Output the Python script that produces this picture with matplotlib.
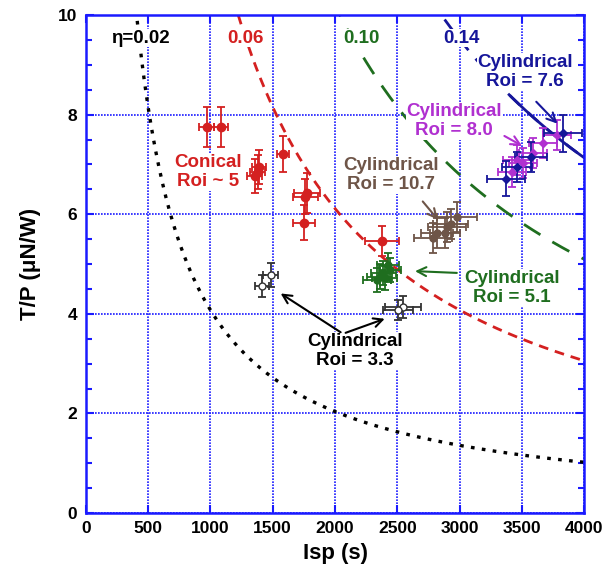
import numpy as np
import matplotlib
matplotlib.use("Agg")
import matplotlib.pyplot as plt
from matplotlib.ticker import MultipleLocator

plt.rcParams['font.family'] = ['Liberation Sans', 'DejaVu Sans']
plt.rcParams['font.weight'] = 'bold'

# efficiency curves: T/P = 2*eta/(g*Isp)
etas = [0.02, 0.06, 0.10, 0.14]
eta_labels = ["\u03b7=0.02", "0.06", "0.10", "0.14"]
eta_colors = ["black", "#d42020", "#1f6e1f", "#16169a"]
eta_dashes = [(1.1, 2.2), (3.5, 2.5), (7, 5), (5, 4)]
eta_widths = [2.4, 2, 2, 2]
eta_label_x = [434, 1285, 2209, 3018]
g0 = 9.81

# data points (Isp, T/P, xerr, yerr)
conical_isp = [972, 1084, 1583, 1390, 1357, 1380, 1775, 1760, 1751, 2378]
conical_tp = [7.75, 7.75, 7.21, 6.95, 6.77, 6.85, 6.43, 6.35, 5.83, 5.46]
conical_xerr = [60, 56, 50, 60, 60, 60, 107, 100, 90, 134]
conical_yerr = [0.4, 0.4, 0.36, 0.35, 0.35, 0.35, 0.4, 0.35, 0.35, 0.3]

cyl51_isp = [2386, 2337, 2442, 2360, 2426, 2400]
cyl51_tp = [4.82, 4.68, 4.88, 4.75, 4.98, 4.72]
cyl51_xerr = [100, 110, 90, 100, 90, 100]
cyl51_yerr = [0.25, 0.25, 0.25, 0.25, 0.25, 0.25]

cyl33_isp = [1414, 1486, 2547, 2507]
cyl33_tp = [4.56, 4.78, 4.14, 4.07]
cyl33_xerr = [60, 60, 145, 120]
cyl33_yerr = [0.22, 0.25, 0.22, 0.2]

cyl107_isp = [2898, 2820, 2980, 2884, 2787, 2930]
cyl107_tp = [5.74, 5.62, 5.95, 5.62, 5.52, 5.80]
cyl107_xerr = [150, 130, 160, 120, 150, 140]
cyl107_yerr = [0.3, 0.3, 0.3, 0.3, 0.3, 0.3]

cyl80_isp = [3422, 3510, 3590, 3462, 3670, 3783]
cyl80_tp = [6.85, 7.03, 7.23, 7.09, 7.43, 7.59]
cyl80_xerr = [110, 110, 110, 110, 110, 110]
cyl80_yerr = [0.3, 0.3, 0.3, 0.3, 0.3, 0.3]

cyl76_isp = [3373, 3574, 3831, 3462]
cyl76_tp = [6.71, 7.15, 7.63, 6.95]
cyl76_xerr = [150, 130, 150, 120]
cyl76_yerr = [0.35, 0.3, 0.37, 0.3]

fig = plt.figure(figsize=(6.13, 5.81), dpi=100)
ax = fig.add_axes([0.140, 0.117, 0.813, 0.857])

blue = "#1a1aff"
ax.set_xlim(0, 4000)
ax.set_ylim(0, 10)
ax.xaxis.set_major_locator(MultipleLocator(500))
ax.yaxis.set_major_locator(MultipleLocator(2))
ax.yaxis.set_minor_locator(MultipleLocator(0.5))
ax.grid(True, which='major', color=blue, ls=(0, (1, 0.8)), lw=1.2)
for s in ax.spines.values():
    s.set_color(blue)
    s.set_linewidth(1.8)
ax.tick_params(which='both', direction='in', color=blue, top=True, right=True, width=1.5)
ax.tick_params(which='major', length=6, labelsize=12.5, pad=6)
ax.tick_params(which='minor', length=4)
for lab in ax.get_xticklabels() + ax.get_yticklabels():
    lab.set_fontweight('bold')
ax.set_xlabel("Isp (s)", fontsize=16, fontweight='bold', labelpad=5)
ax.set_ylabel("T/P (\u03bcN/W)", fontsize=16, fontweight='bold', labelpad=12)

wbox = dict(facecolor='white', edgecolor='none', pad=0.5)
isp = np.linspace(300, 4000, 400)
for eta, lab, c, d, w, lx in zip(etas, eta_labels, eta_colors, eta_dashes, eta_widths, eta_label_x):
    ax.plot(isp, 2 * eta / (g0 * isp) * 1e6, color=c, lw=w, dashes=d, zorder=2)
    ax.text(lx, 9.54, lab, color=c, fontsize=13.5, fontweight='bold', ha='center', va='center',
            zorder=5, bbox=wbox)
# last stretch of the 0.14 curve is drawn solid in the original
tail = isp[isp > 3390]
ax.plot(tail, 2 * etas[3] / (g0 * tail) * 1e6, color=eta_colors[3], lw=2, zorder=2)


def series(x, y, xe, ye, color, face=None, marker='o', ms=5):
    ax.errorbar(x, y, xerr=xe, yerr=ye, fmt=marker, ms=ms, color=color, mfc=face or color,
                mec=color, ecolor=color, elinewidth=1.3, capsize=3, capthick=1.3, zorder=3)


series(conical_isp, conical_tp, conical_xerr, conical_yerr, "#d42020", ms=6)
series(cyl51_isp, cyl51_tp, cyl51_xerr, cyl51_yerr, "#1f6e1f")
series(cyl33_isp, cyl33_tp, cyl33_xerr, cyl33_yerr, "#333333", face='white')
series(cyl107_isp, cyl107_tp, cyl107_xerr, cyl107_yerr, "#6e5548")
series(cyl80_isp, cyl80_tp, cyl80_xerr, cyl80_yerr, "#b030d0", marker='D', ms=4)
series(cyl76_isp, cyl76_tp, cyl76_xerr, cyl76_yerr, "#16169a", marker='D', ms=4.5)

tkw = dict(fontsize=13.5, fontweight='bold', ha='center', va='center', zorder=6,
           linespacing=1.2, bbox=wbox)
ax.text(980, 6.85, "Conical\nRoi ~ 5", color="#d42020", **tkw)
ax.text(2450, 6.79, "Cylindrical\nRoi = 10.7", color="#6e5548", **tkw)
ax.text(2956, 7.87, "Cylindrical\nRoi = 8.0", color="#b030d0", **tkw)
ax.text(3526, 8.86, "Cylindrical\nRoi = 7.6", color="#16169a", **tkw)
ax.text(3422, 4.52, "Cylindrical\nRoi = 5.1", color="#1f6e1f", **tkw)
ax.text(2161, 3.25, "Cylindrical\nRoi = 3.3", color="black", **tkw)

akw = dict(arrowstyle='->', lw=1.5, mutation_scale=16)
ax.annotate("", xy=(2840, 5.85), xytext=(2690, 6.3),
            arrowprops=dict(color="#6e5548", **akw), zorder=6)
ax.annotate("", xy=(3520, 7.35), xytext=(3340, 7.6),
            arrowprops=dict(color="#b030d0", **akw), zorder=6)
ax.annotate("", xy=(3800, 7.78), xytext=(3600, 8.3),
            arrowprops=dict(color="#16169a", **akw), zorder=6)
ax.annotate("", xy=(2620, 4.86), xytext=(3000, 4.82),
            arrowprops=dict(color="#1f6e1f", **akw), zorder=6)
ax.annotate("", xy=(1545, 4.44), xytext=(2064, 3.6),
            arrowprops=dict(color="black", **akw), zorder=6)
ax.annotate("", xy=(2420, 3.92), xytext=(2064, 3.6),
            arrowprops=dict(color="black", **akw), zorder=6)

fig.savefig("out.png", dpi=100)
